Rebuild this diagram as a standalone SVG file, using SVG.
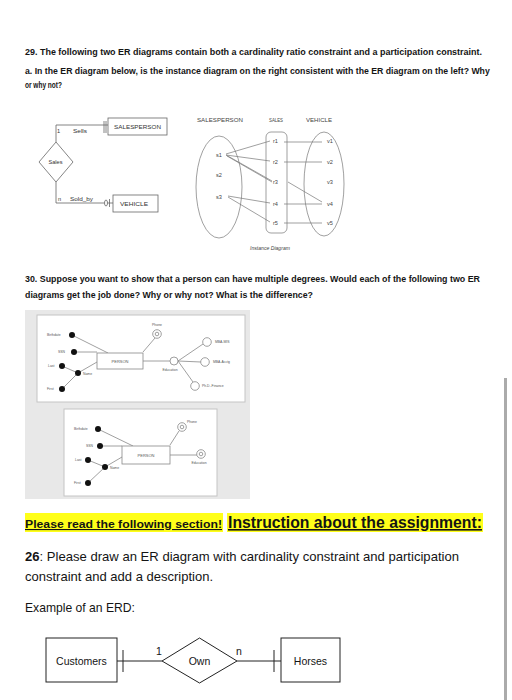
<svg xmlns="http://www.w3.org/2000/svg" width="512" height="700" viewBox="0 0 512 700">
<style>
text{font-family:"Liberation Sans",Arial,sans-serif;fill:#141414}
.h{font-weight:bold;font-size:9.5px}
.er{font-size:5.6px;fill:#333}
.box{fill:#fff;stroke:#666;stroke-width:0.8}
.ln{fill:none;stroke:#666;stroke-width:0.8}
.inst{font-size:5.6px;fill:#444}
.iln{fill:none;stroke:#777;stroke-width:0.7}
.sm{font-size:3.4px;fill:#555}
.pln{fill:none;stroke:#888;stroke-width:0.8}
.dot{fill:#111}
.oc{fill:#fff;stroke:#888;stroke-width:0.8}
.body{font-size:13px}
.erd{fill:#fff;stroke:#222;stroke-width:1}
.erdt{font-size:10.5px}
</style>
<rect width="512" height="700" fill="#fff"/>

<!-- Section 29 text -->
<text class="h" x="25" y="55" textLength="457" lengthAdjust="spacingAndGlyphs">29. The following two ER diagrams contain both a cardinality ratio constraint and a participation constraint.</text>
<text class="h" transform="translate(25,74) scale(0.8,1)" x="0" y="0" textLength="581" lengthAdjust="spacingAndGlyphs">a. In the ER diagram below, is the instance diagram on the right consistent with the ER diagram on the left? Why</text>
<text class="h" x="25" y="88" textLength="37" lengthAdjust="spacingAndGlyphs">or why not?</text>

<!-- ER diagram (left) -->
<g id="er-connectors">
  <polyline class="ln" points="108,125 56,125 56,142"/>
  <line class="ln" x1="104" y1="121" x2="104" y2="133"/>
  <line class="ln" x1="106" y1="121" x2="106" y2="133"/>
  <polyline class="ln" points="56,182 56,203 113,203"/>
  <ellipse class="ln" cx="106" cy="203" rx="1.5" ry="3" style="fill:#fff"/>
  <line class="ln" x1="109.5" y1="199" x2="109.5" y2="207"/>
</g>
<g id="er-salesperson">
  <rect class="box" x="108" y="118" width="59" height="17"/>
  <text class="er" x="114" y="128.5" textLength="47" lengthAdjust="spacingAndGlyphs">SALESPERSON</text>
</g>
<g id="er-sales">
  <polygon class="box" points="56,142 73,162 56,182 39,162"/>
  <text class="er" x="48.5" y="164" textLength="14" lengthAdjust="spacingAndGlyphs">Sales</text>
</g>
<g id="er-vehicle">
  <rect class="box" x="113" y="195" width="45" height="17"/>
  <text class="er" x="120" y="205.5" textLength="28" lengthAdjust="spacingAndGlyphs">VEHICLE</text>
</g>
<g id="er-labels">
  <text class="er" x="57" y="133">1</text>
  <text class="er" x="73" y="133" textLength="14" lengthAdjust="spacingAndGlyphs">Sells</text>
  <text class="er" x="58" y="201">n</text>
  <text class="er" x="70" y="201" textLength="23" lengthAdjust="spacingAndGlyphs">Sold_by</text>
</g>

<!-- Instance diagram -->
<g id="inst-connectors">
  <line class="iln" x1="226" y1="154" x2="270" y2="141"/>
  <line class="iln" x1="226" y1="155" x2="270" y2="161"/>
  <line class="iln" x1="226" y1="155" x2="272" y2="181"/>
  <line class="iln" x1="227" y1="156" x2="272" y2="182"/>
  <line class="iln" x1="228" y1="196" x2="270" y2="203"/>
  <line class="iln" x1="228" y1="197" x2="270" y2="222"/>
  <line class="iln" x1="284" y1="142" x2="322" y2="142"/>
  <line class="iln" x1="284" y1="162" x2="322" y2="162"/>
  <line class="iln" x1="288" y1="182" x2="322" y2="202"/>
  <line class="iln" x1="284" y1="204" x2="322" y2="204"/>
  <line class="iln" x1="284" y1="223" x2="322" y2="223"/>
</g>
<g id="inst-salesperson">
  <text class="inst" x="197" y="122" textLength="46" lengthAdjust="spacingAndGlyphs">SALESPERSON</text>
  <ellipse class="iln" cx="219" cy="187" rx="23" ry="51"/>
  <text class="inst" x="216" y="157">s1</text>
  <text class="inst" x="216" y="177">s2</text>
  <text class="inst" x="216" y="199">s3</text>
</g>
<g id="inst-sales">
  <text class="inst" x="269" y="122" textLength="14" lengthAdjust="spacingAndGlyphs">SALES</text>
  <rect class="iln" x="266" y="132" width="21" height="101" rx="5"/>
  <text class="inst" x="273" y="143">r1</text>
  <text class="inst" x="273" y="164">r2</text>
  <text class="inst" x="273" y="184">r3</text>
  <text class="inst" x="273" y="206">r4</text>
  <text class="inst" x="273" y="225">r5</text>
</g>
<g id="inst-vehicle">
  <text class="inst" x="306" y="122" textLength="26" lengthAdjust="spacingAndGlyphs">VEHICLE</text>
  <ellipse class="iln" cx="324" cy="184" rx="20" ry="52"/>
  <text class="inst" x="327" y="143">v1</text>
  <text class="inst" x="327" y="164">v2</text>
  <text class="inst" x="327" y="184">v3</text>
  <text class="inst" x="327" y="206">v4</text>
  <text class="inst" x="327" y="225">v5</text>
</g>
<text class="inst" x="250" y="250" font-style="italic" textLength="40" lengthAdjust="spacingAndGlyphs">Instance Diagram</text>

<!-- Section 30 text -->
<text class="h" x="25" y="282" textLength="455" lengthAdjust="spacingAndGlyphs">30. Suppose you want to show that a person can have multiple degrees. Would each of the following two ER</text>
<text class="h" x="25" y="298" textLength="288" lengthAdjust="spacingAndGlyphs">diagrams get the job done? Why or why not? What is the difference?</text>

<!-- Section 30 frame -->
<rect x="25" y="310" width="225" height="189" fill="#e8e8e8"/>
<rect x="37" y="315" width="208" height="87" fill="#fff" stroke="#c4c4c4" stroke-width="1"/>
<rect x="64" y="409" width="153" height="87" fill="#fff" stroke="#c4c4c4" stroke-width="1"/>

<!-- Diagram 1 -->
<g id="d1-connectors">
  <line class="pln" x1="72" y1="335" x2="108" y2="353"/>
  <line class="pln" x1="74" y1="352" x2="97" y2="352"/>
  <line class="pln" x1="78" y1="373" x2="97" y2="362"/>
  <line class="pln" x1="62" y1="366" x2="78" y2="373"/>
  <line class="pln" x1="62" y1="389" x2="78" y2="373"/>
  <line class="pln" x1="143" y1="352" x2="155" y2="338"/>
  <line class="pln" x1="143" y1="361" x2="170" y2="361"/>
  <line class="pln" x1="178" y1="361" x2="203" y2="344"/>
  <line class="pln" x1="178" y1="361" x2="201" y2="362"/>
  <line class="pln" x1="178" y1="361" x2="193" y2="382"/>
</g>
<g id="d1-person">
  <rect x="97" y="353" width="46" height="16" fill="#fff" stroke="#888" stroke-width="0.8"/>
  <text class="sm" x="120" y="362.5" text-anchor="middle" style="font-size:4px">PERSON</text>
</g>
<g id="d1-attrs">
  <circle class="dot" cx="72" cy="335" r="3"/><text class="sm" x="47" y="336.2">Birthdate</text>
  <circle class="dot" cx="74" cy="352" r="3"/><text class="sm" x="58" y="353.2">SSN</text>
  <circle class="dot" cx="62" cy="366" r="3"/><text class="sm" x="48" y="367.2">Last</text>
  <circle class="dot" cx="78" cy="373" r="3"/><text class="sm" x="83" y="375.2">Name</text>
  <circle class="dot" cx="62" cy="389" r="3"/><text class="sm" x="47" y="390.2">First</text>
  <circle class="oc" cx="157" cy="334" r="4.3"/><circle class="oc" cx="157" cy="334" r="1.8"/>
  <text class="sm" x="157" y="326" text-anchor="middle">Phone</text>
  <circle class="oc" cx="174" cy="361" r="4"/>
  <text class="sm" x="170" y="371" text-anchor="middle">Education</text>
  <circle class="oc" cx="207" cy="342" r="4.3"/><text class="sm" x="215" y="343.2">MBA-MIS</text>
  <circle class="oc" cx="205" cy="362" r="4.3"/><text class="sm" x="213" y="363.2">MBA-Acctg</text>
  <circle class="oc" cx="195" cy="386" r="4.3"/><text class="sm" x="202" y="387.2">Ph.D.-Finance</text>
</g>

<!-- Diagram 2 -->
<g id="d2-connectors">
  <line class="pln" x1="98" y1="429" x2="133" y2="446"/>
  <line class="pln" x1="100" y1="446" x2="122" y2="446"/>
  <line class="pln" x1="105" y1="467" x2="122" y2="457"/>
  <line class="pln" x1="88" y1="460" x2="105" y2="467"/>
  <line class="pln" x1="88" y1="483" x2="105" y2="467"/>
  <line class="pln" x1="170" y1="445" x2="179" y2="431"/>
  <line class="pln" x1="170" y1="455" x2="197" y2="455"/>
</g>
<g id="d2-person">
  <rect x="122" y="446" width="48" height="18" fill="#fff" stroke="#888" stroke-width="0.8"/>
  <text class="sm" x="146" y="456.5" text-anchor="middle" style="font-size:4px">PERSON</text>
</g>
<g id="d2-attrs">
  <circle class="dot" cx="98" cy="429" r="3"/><text class="sm" x="74" y="430.2">Birthdate</text>
  <circle class="dot" cx="100" cy="446" r="3"/><text class="sm" x="86" y="447.2">SSN</text>
  <circle class="dot" cx="88" cy="460" r="3"/><text class="sm" x="75" y="461.2">Last</text>
  <circle class="dot" cx="105" cy="467" r="3"/><text class="sm" x="110" y="469.2">Name</text>
  <circle class="dot" cx="88" cy="483" r="3"/><text class="sm" x="74" y="484.2">First</text>
  <circle class="oc" cx="182" cy="427" r="4.3"/><circle class="oc" cx="182" cy="427" r="1.8"/>
  <text class="sm" x="187" y="422.5">Phone</text>
  <circle class="oc" cx="201" cy="454" r="4.3"/><circle class="oc" cx="201" cy="454" r="1.8"/>
  <text class="sm" x="199" y="464" text-anchor="middle">Education</text>
</g>

<!-- Instruction section -->
<rect x="25" y="513" width="198" height="19" fill="#ffff1a"/>
<rect x="227" y="513" width="256" height="19" fill="#ffff1a"/>
<text x="25" y="528" style="font-weight:bold;font-size:11px;text-decoration:underline" textLength="197" lengthAdjust="spacingAndGlyphs">Please read the following section!</text>
<text x="228" y="528" style="font-weight:bold;font-size:16px;text-decoration:underline" textLength="254" lengthAdjust="spacingAndGlyphs">Instruction about the assignment:</text>
<text class="body" x="25" y="561" textLength="434" lengthAdjust="spacingAndGlyphs"><tspan font-weight="bold">26</tspan>:  Please draw an ER diagram with cardinality constraint and participation</text>
<text class="body" x="25" y="581" textLength="188" lengthAdjust="spacingAndGlyphs">constraint and add a description.</text>
<text class="body" x="25" y="612" textLength="110" lengthAdjust="spacingAndGlyphs">Example of an ERD:</text>

<!-- Example ERD -->
<g id="erd-connectors">
  <line class="erd" x1="117" y1="661" x2="162" y2="661"/>
  <line class="erd" x1="123" y1="650" x2="123" y2="672"/>
  <line class="erd" x1="237" y1="661" x2="281" y2="661"/>
  <line class="erd" x1="274" y1="650" x2="274" y2="672"/>
  <text class="erdt" x="156" y="655">1</text>
  <text class="erdt" x="236" y="655">n</text>
</g>
<g id="erd-customers">
  <rect class="erd" x="46" y="638" width="71" height="44"/>
  <text class="erdt" x="81.5" y="665" text-anchor="middle">Customers</text>
</g>
<g id="erd-own">
  <polygon class="erd" points="162,661 199.5,638 237,661 199.5,683"/>
  <text class="erdt" x="199.5" y="665" text-anchor="middle">Own</text>
</g>
<g id="erd-horses">
  <rect class="erd" x="281" y="638" width="59" height="44"/>
  <text class="erdt" x="310.5" y="665" text-anchor="middle">Horses</text>
</g>

<!-- scrollbar -->
<rect x="504" y="378" width="3" height="322" fill="#ababab"/>
</svg>
